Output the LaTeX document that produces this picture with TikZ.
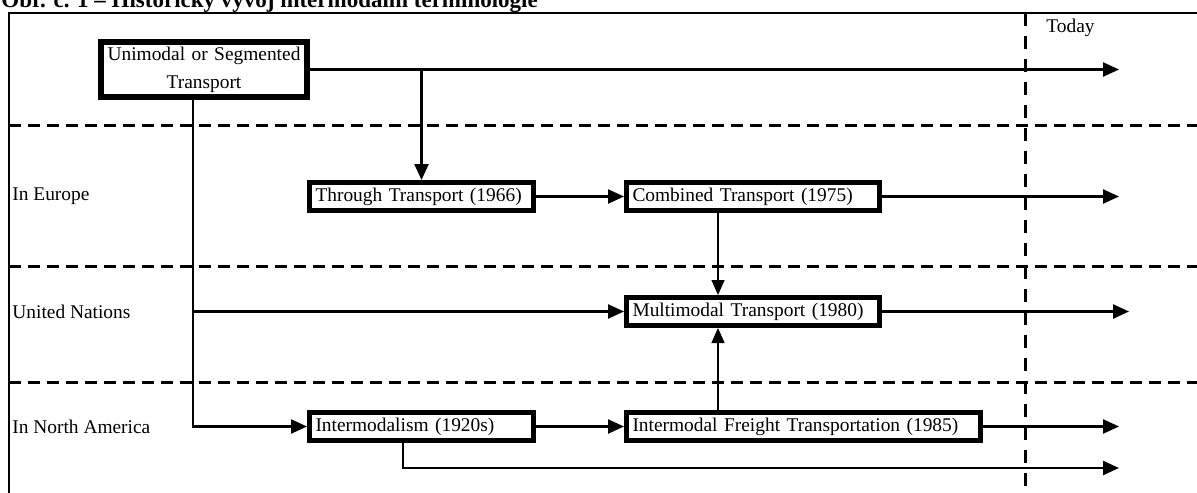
\documentclass[tikz,border=0pt]{standalone}
\usepackage{fontspec}
\setmainfont{Liberation Serif}
\usetikzlibrary{
    arrows.meta,
    positioning
}

\begin{document}
\begin{tikzpicture}[
        x=0.5pt,
        y=-0.5pt,
        termbox/.style={
            rectangle,
            draw,
            line width=2.5pt,
            inner xsep=3pt,
            inner ysep=1pt,
            minimum height=14pt,
            align=left,
            font=\fontsize{9.7}{11.5}\selectfont
        },
        shortbox/.style={termbox, text width=106pt},
        midbox/.style={termbox, text width=120.5pt},
        longbox/.style={termbox, text width=171pt},
        rowlabel/.style={
            anchor=west,
            inner sep=0pt,
            font=\fontsize{9.7}{11.5}\selectfont
        },
        flow/.style={
            -{Triangle[length=8pt,width=7pt]},
            line width=1.2pt
        },
        thinflow/.style={
            -{Triangle[length=7.5pt,width=6.5pt]},
            line width=0.7pt
        },
        lane/.style={
            dash pattern=on 6pt off 3.5pt,
            line width=1.5pt
        }
    ]

    \useasboundingbox (0,0) rectangle (1197,492);

    \node[anchor=base west, inner sep=0pt,
          font=\bfseries\fontsize{11.5}{13}\selectfont] (title) at (1,8)
        {Obr. č. 1 – Historický vývoj intermodální terminologie};

    \draw[line width=1.3pt] (1205,13) -- (9,13) -- (9,500);

    \draw[lane] (9,125) -- (1205,125);
    \draw[lane] (9,266) -- (1205,266);
    \draw[lane] (9,382) -- (1205,382);
    \draw[lane, dash pattern=on 6.5pt off 5pt] (1025,13) -- (1025,500);

    \node[rowlabel] (today) at (1046,28) {Today};

    \coordinate (lblx) at (12,0);
    \coordinate (edge) at (1119,0);
    \coordinate (edgeun) at (1129,0);

    \node[termbox, align=center, text width=97pt, minimum height=27.5pt,
          line width=3pt, font=\fontsize{9.7}{14}\selectfont] (unimodal) at (204,69.5)
        {Unimodal or Segmented\\Transport};

    \node[shortbox] (through) at (421.5,196.5)
        {Through Transport (1966)};

    \node[midbox, right=44pt of through] (combined)
        {Combined Transport (1975)};

    \node[midbox, below=41pt of combined] (multimodal)
        {Multimodal Transport (1980)};

    \node[longbox, below=41pt of multimodal.south west, anchor=north west] (freight)
        {Intermodal Freight Transportation (1985)};

    \node[shortbox, left=44pt of freight] (intermodalism)
        {Intermodalism (1920s)};

    \node[rowlabel] (europe) at (lblx |- through) {In Europe};
    \node[rowlabel] (nations) at (lblx |- multimodal) {United Nations};
    \node[rowlabel] (america) at (lblx |- freight) {In North America};

    \coordinate (trunk) at ([xshift=-5.5pt]unimodal.south);
    \coordinate (lowend) at (1119,468);

    \draw[flow] (unimodal.east) -- (unimodal.east -| edge);
    \draw[flow] (through.north |- unimodal.east) -- (through.north);
    \draw[flow] (through) -- (combined);
    \draw[flow] (combined.east) -- (combined.east -| edge);

    \draw[thinflow] ([xshift=47pt]combined.south west) -- ([xshift=47pt]multimodal.north west);
    \draw[thinflow] ([xshift=47pt]freight.north west) -- ([xshift=47pt]multimodal.south west);

    \draw[flow] (trunk) |- (intermodalism.west);
    \draw[flow] (trunk |- multimodal.west) -- (multimodal.west);
    \draw[flow] (multimodal.east) -- (multimodal.east -| edgeun);

    \draw[flow] (intermodalism) -- (freight);
    \draw[flow] (freight.east) -- (freight.east -| edge);
    \draw[flow] ([xshift=48pt]intermodalism.south west) |- (lowend);

\end{tikzpicture}
\end{document}
